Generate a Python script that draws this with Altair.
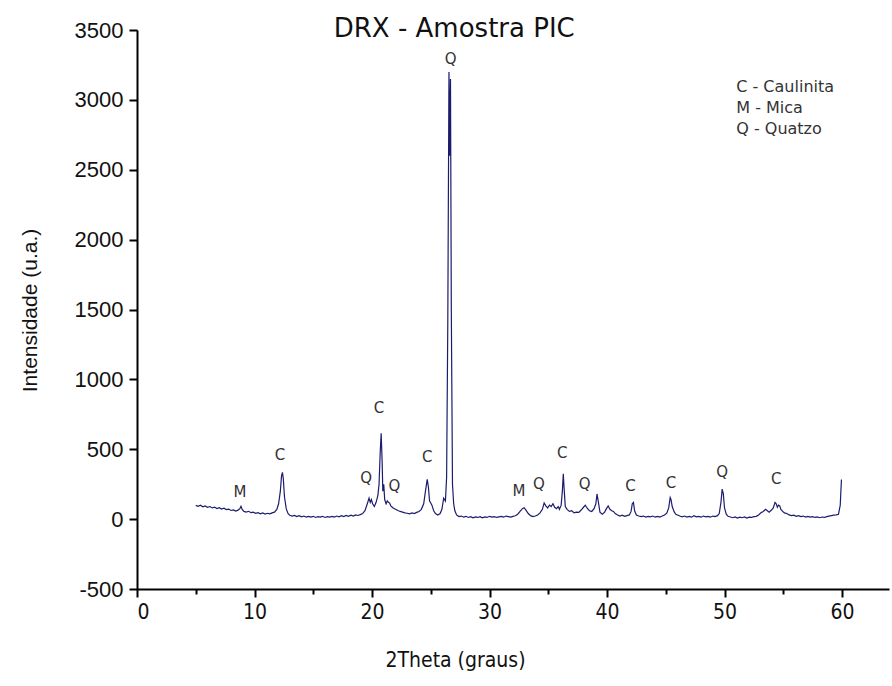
import altair as alt
import pandas as pd

# ---- data (2theta in degrees, intensity in u.a.) ----
two_theta = [
    5.0, 5.2, 5.4, 5.6, 5.8, 6.0, 6.2, 6.4, 6.6, 6.8, 7.0, 7.2, 7.4, 7.6, 7.8, 8.0, 8.2, 8.4, 8.6,
    8.75, 8.85, 8.95, 9.1, 9.3, 9.5, 9.7, 9.9, 10.1, 10.3, 10.5, 10.7, 10.9, 11.1, 11.3, 11.5, 11.7,
    11.9, 12.05, 12.2, 12.3, 12.38, 12.45, 12.55, 12.7, 12.85, 13.0, 13.2, 13.4, 13.6, 13.8, 14.0,
    14.2, 14.4, 14.6, 14.8, 15.0, 15.2, 15.4, 15.6, 15.8, 16.0, 16.2, 16.4, 16.6, 16.8, 17.0, 17.2,
    17.4, 17.6, 17.8, 18.0, 18.2, 18.4, 18.6, 18.8, 19.0, 19.2, 19.4, 19.6, 19.75, 19.85, 19.95,
    20.05, 20.2, 20.35, 20.5, 20.6, 20.7, 20.78, 20.86, 20.92, 21.0, 21.08, 21.2, 21.3, 21.4, 21.5,
    21.6, 21.8, 22.0, 22.2, 22.4, 22.6, 22.8, 23.0, 23.2, 23.4, 23.6, 23.8, 24.0, 24.2, 24.4, 24.55,
    24.7, 24.8, 24.9, 25.0, 25.1, 25.25, 25.4, 25.6, 25.8, 25.95, 26.1, 26.25, 26.35, 26.45, 26.55,
    26.62, 26.68, 26.75, 26.85, 26.95, 27.05, 27.2, 27.4, 27.6, 27.8, 28.0, 28.2, 28.4, 28.6, 28.8,
    29.0, 29.2, 29.4, 29.6, 29.8, 30.0, 30.2, 30.4, 30.6, 30.8, 31.0, 31.2, 31.4, 31.6, 31.8, 32.0,
    32.2, 32.4, 32.6, 32.8, 32.95, 33.1, 33.3, 33.5, 33.7, 33.9, 34.1, 34.3, 34.5, 34.65, 34.8,
    34.95, 35.1, 35.25, 35.4, 35.55, 35.7, 35.85, 35.95, 36.1, 36.2, 36.28, 36.35, 36.45, 36.6,
    36.8, 37.0, 37.2, 37.4, 37.6, 37.8, 38.0, 38.15, 38.3, 38.5, 38.7, 38.9, 39.05, 39.15, 39.25,
    39.4, 39.6, 39.8, 39.95, 40.1, 40.25, 40.4, 40.55, 40.7, 40.9, 41.1, 41.3, 41.5, 41.7, 41.9,
    42.05, 42.15, 42.25, 42.35, 42.5, 42.7, 42.9, 43.1, 43.3, 43.5, 43.7, 43.9, 44.1, 44.3, 44.5,
    44.7, 44.9, 45.1, 45.25, 45.38, 45.45, 45.55, 45.7, 45.85, 46.0, 46.2, 46.4, 46.6, 46.8, 47.0,
    47.2, 47.4, 47.6, 47.8, 48.0, 48.2, 48.4, 48.6, 48.8, 49.0, 49.2, 49.4, 49.55, 49.7, 49.8, 49.9,
    50.0, 50.15, 50.3, 50.5, 50.7, 50.9, 51.1, 51.3, 51.5, 51.7, 51.9, 52.1, 52.3, 52.5, 52.7, 52.9,
    53.1, 53.3, 53.5, 53.65, 53.8, 54.0, 54.15, 54.3, 54.4, 54.5, 54.6, 54.7, 54.8, 54.95, 55.1,
    55.3, 55.5, 55.7, 55.9, 56.1, 56.3, 56.5, 56.7, 56.9, 57.1, 57.3, 57.5, 57.7, 57.9, 58.1, 58.3,
    58.5, 58.7, 58.9, 59.1, 59.3, 59.5, 59.7, 59.85, 59.95, 60.0,
]
intensity = [
    98, 92, 100, 88, 94, 85, 90, 80, 86, 76, 82, 72, 78, 68, 72, 62, 66, 58, 64,
    75, 92, 70, 55, 50, 56, 46, 50, 42, 46, 38, 44, 36, 42, 38, 45, 50,
    70, 110, 200, 310, 335, 290, 160, 75, 40, 28, 22, 26, 18, 24, 16,
    22, 15, 20, 14, 20, 12, 18, 14, 20, 12, 18, 14, 20, 15, 22, 16,
    24, 18, 26, 20, 28, 22, 30, 26, 32, 40, 60, 110, 150, 120, 140,
    110, 90, 120, 170, 250, 480, 615, 420, 200, 250, 140, 110, 130, 120, 115,
    95, 80, 70, 62, 55, 50, 45, 42, 38, 44, 40, 48, 55, 70, 110, 200,
    285, 230, 130, 115, 100, 60, 40, 30, 40, 70, 150, 130, 300, 1400, 3200,
    2600, 3150, 1500, 250, 110, 60, 30, 18, 22, 14, 20, 12, 18, 10, 16,
    12, 18, 10, 16, 12, 20, 14, 18, 12, 16, 20, 14, 22, 18, 14, 20,
    24, 35, 55, 75, 82, 65, 40, 25, 18, 22, 30, 45, 70, 115, 95,
    80, 100, 90, 110, 85, 75, 90, 70, 100, 200, 325, 220, 90, 70,
    55, 60, 45, 50, 48, 65, 85, 100, 80, 60, 55, 75, 110, 180, 130,
    50, 35, 50, 75, 95, 70, 60, 55, 40, 30, 22, 28, 20, 25, 30,
    55, 110, 120, 60, 30, 22, 18, 22, 15, 20, 16, 22, 14, 20, 15,
    22, 30, 45, 80, 155, 140, 90, 55, 35, 30, 22, 16, 22, 15, 20,
    14, 24, 16, 20, 14, 22, 16, 20, 14, 22, 18, 25, 40, 120, 215, 180,
    80, 35, 20, 15, 10, 16, 8, 14, 10, 16, 8, 14, 12, 18, 20, 30,
    45, 55, 70, 60, 50, 65, 80, 120, 110, 85, 100, 95, 70, 55, 45,
    40, 30, 25, 28, 20, 25, 18, 22, 15, 20, 14, 18, 12, 16, 10, 15,
    12, 18, 22, 25, 28, 30, 35, 100, 280, 280,
]

label_text = ["M", "C", "Q", "C", "Q", "C", "Q", "M", "Q", "C", "Q", "C", "C", "Q", "C"]
label_theta = [8.77, 12.17, 19.5, 20.6, 21.9, 24.7, 26.7, 32.5, 34.2, 36.2, 38.1, 42.0, 45.45, 49.8, 54.4]
label_int = [193, 457, 293, 793, 236, 443, 3293, 200, 250, 471, 250, 236, 257, 336, 286]

legend_lines = ["C - Caulinita", "M - Mica", "Q - Quatzo"]
legend_theta = [51.0, 51.0, 51.0]
legend_int = [3093, 2943, 2793]

title_text = ["DRX - Amostra PIC"]
title_theta = [27.0]
title_int = [3505]

x_ticks = [0, 5, 10, 15, 20, 25, 30, 35, 40, 45, 50, 55, 60]
y_ticks = [-500, -250, 0, 250, 500, 750, 1000, 1250, 1500, 1750, 2000, 2250,
           2500, 2750, 3000, 3250, 3500]

df = pd.DataFrame({"theta": two_theta, "inten": intensity})
labels = pd.DataFrame({"theta": label_theta, "inten": label_int, "txt": label_text})
legend = pd.DataFrame({"theta": legend_theta, "inten": legend_int, "txt": legend_lines})
title = pd.DataFrame({"theta": title_theta, "inten": title_int, "txt": title_text})

xscale = alt.Scale(domain=[0, 64], nice=False, zero=False)
yscale = alt.Scale(domain=[-500, 3500], nice=False, zero=False)

narrow = "Liberation Sans Narrow, DejaVu Sans Condensed, Liberation Sans, sans-serif"

xaxis = alt.Axis(
    values=x_ticks, title="2Theta (graus)", grid=False,
    domainColor="black", domainWidth=2, tickColor="black", tickWidth=2,
    tickSize={"condition": {"test": "datum.value % 10 === 0", "value": 8}, "value": 5},
    labelExpr="datum.value % 10 === 0 ? '' + datum.value : ''",
    labelFont=narrow, labelFontSize=21, labelColor="#111",
    labelPadding=4, titleFont=narrow, titleFontSize=21,
    titleFontWeight="normal", titleColor="#111", titleX=318, titleY=60,
    titleBaseline="top",
)
yaxis = alt.Axis(
    values=y_ticks, title="Intensidade (u.a.)", grid=False,
    domainColor="black", domainWidth=2, tickColor="black", tickWidth=2,
    tickSize={"condition": {"test": "datum.value % 500 === 0", "value": 8}, "value": 4},
    labelExpr="datum.value % 500 === 0 ? '' + datum.value : ''",
    labelFont="Liberation Sans", labelFontSize=22, labelColor="#111",
    labelPadding=6, titleFont="Liberation Sans", titleFontSize=21,
    titleFontWeight="normal", titleColor="#111", titleX=-97, titleY=280,
)

line = alt.Chart(df).mark_line(color="#1c1c6e", strokeWidth=1.2, clip=True).encode(
    x=alt.X("theta:Q", scale=xscale, axis=xaxis),
    y=alt.Y("inten:Q", scale=yscale, axis=yaxis),
)

peak_labels = alt.Chart(labels).mark_text(
    font="DejaVu Sans", fontSize=15, color="#333", baseline="middle", align="center"
).encode(x="theta:Q", y="inten:Q", text="txt:N")

legend_text = alt.Chart(legend).mark_text(
    font="DejaVu Sans", fontSize=16, color="#333", baseline="middle", align="left"
).encode(x="theta:Q", y="inten:Q", text="txt:N")

title_mark = alt.Chart(title).mark_text(
    font="DejaVu Sans", fontSize=26, color="#111", baseline="middle", align="center"
).encode(x="theta:Q", y="inten:Q", text="txt:N")

chart = alt.layer(line, peak_labels, legend_text, title_mark).properties(
    width=752, height=559,
    autosize=alt.AutoSizeParams(type="none"),
    padding={"left": 137, "top": 30, "right": 3, "bottom": 97},
    background="white",
).configure_view(stroke=None)

chart.save("out.html", embed_options={"renderer": "svg", "actions": False})
